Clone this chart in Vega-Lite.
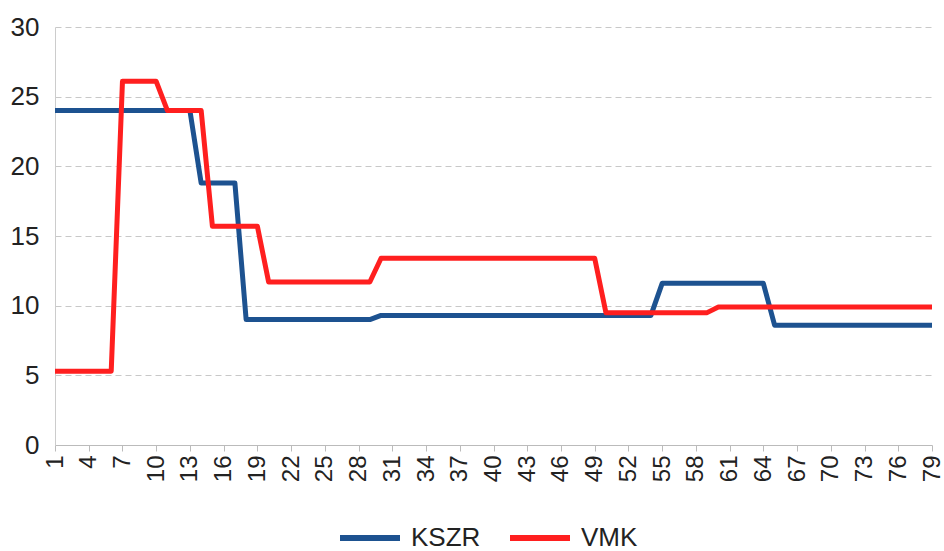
{
  "$schema": "https://vega.github.io/schema/vega-lite/v6.json",
  "width": 877,
  "height": 418,
  "autosize": {"type": "none"},
  "padding": {"left": 55, "top": 27, "right": 12, "bottom": 106},
  "background": "white",
  "config": {
    "font": "Liberation Sans",
    "view": {"stroke": null}
  },
  "data": {
    "values": [
      {"x":1,"KSZR":24,"VMK":5.3},{"x":2,"KSZR":24,"VMK":5.3},{"x":3,"KSZR":24,"VMK":5.3},{"x":4,"KSZR":24,"VMK":5.3},{"x":5,"KSZR":24,"VMK":5.3},{"x":6,"KSZR":24,"VMK":5.3},
      {"x":7,"KSZR":24,"VMK":26.1},{"x":8,"KSZR":24,"VMK":26.1},{"x":9,"KSZR":24,"VMK":26.1},{"x":10,"KSZR":24,"VMK":26.1},
      {"x":11,"KSZR":24,"VMK":24},{"x":12,"KSZR":24,"VMK":24},{"x":13,"KSZR":24,"VMK":24},
      {"x":14,"KSZR":18.8,"VMK":24},
      {"x":15,"KSZR":18.8,"VMK":15.7},{"x":16,"KSZR":18.8,"VMK":15.7},{"x":17,"KSZR":18.8,"VMK":15.7},
      {"x":18,"KSZR":9.0,"VMK":15.7},{"x":19,"KSZR":9.0,"VMK":15.7},
      {"x":20,"KSZR":9.0,"VMK":11.7},{"x":21,"KSZR":9.0,"VMK":11.7},{"x":22,"KSZR":9.0,"VMK":11.7},{"x":23,"KSZR":9.0,"VMK":11.7},{"x":24,"KSZR":9.0,"VMK":11.7},{"x":25,"KSZR":9.0,"VMK":11.7},{"x":26,"KSZR":9.0,"VMK":11.7},{"x":27,"KSZR":9.0,"VMK":11.7},{"x":28,"KSZR":9.0,"VMK":11.7},{"x":29,"KSZR":9.0,"VMK":11.7},
      {"x":30,"KSZR":9.3,"VMK":13.4},{"x":31,"KSZR":9.3,"VMK":13.4},{"x":32,"KSZR":9.3,"VMK":13.4},{"x":33,"KSZR":9.3,"VMK":13.4},{"x":34,"KSZR":9.3,"VMK":13.4},{"x":35,"KSZR":9.3,"VMK":13.4},{"x":36,"KSZR":9.3,"VMK":13.4},{"x":37,"KSZR":9.3,"VMK":13.4},{"x":38,"KSZR":9.3,"VMK":13.4},{"x":39,"KSZR":9.3,"VMK":13.4},
      {"x":40,"KSZR":9.3,"VMK":13.4},{"x":41,"KSZR":9.3,"VMK":13.4},{"x":42,"KSZR":9.3,"VMK":13.4},{"x":43,"KSZR":9.3,"VMK":13.4},{"x":44,"KSZR":9.3,"VMK":13.4},{"x":45,"KSZR":9.3,"VMK":13.4},{"x":46,"KSZR":9.3,"VMK":13.4},{"x":47,"KSZR":9.3,"VMK":13.4},{"x":48,"KSZR":9.3,"VMK":13.4},{"x":49,"KSZR":9.3,"VMK":13.4},
      {"x":50,"KSZR":9.3,"VMK":9.5},{"x":51,"KSZR":9.3,"VMK":9.5},{"x":52,"KSZR":9.3,"VMK":9.5},{"x":53,"KSZR":9.3,"VMK":9.5},{"x":54,"KSZR":9.3,"VMK":9.5},
      {"x":55,"KSZR":11.6,"VMK":9.5},{"x":56,"KSZR":11.6,"VMK":9.5},{"x":57,"KSZR":11.6,"VMK":9.5},{"x":58,"KSZR":11.6,"VMK":9.5},{"x":59,"KSZR":11.6,"VMK":9.5},
      {"x":60,"KSZR":11.6,"VMK":9.9},{"x":61,"KSZR":11.6,"VMK":9.9},{"x":62,"KSZR":11.6,"VMK":9.9},{"x":63,"KSZR":11.6,"VMK":9.9},{"x":64,"KSZR":11.6,"VMK":9.9},
      {"x":65,"KSZR":8.6,"VMK":9.9},{"x":66,"KSZR":8.6,"VMK":9.9},{"x":67,"KSZR":8.6,"VMK":9.9},{"x":68,"KSZR":8.6,"VMK":9.9},{"x":69,"KSZR":8.6,"VMK":9.9},{"x":70,"KSZR":8.6,"VMK":9.9},{"x":71,"KSZR":8.6,"VMK":9.9},{"x":72,"KSZR":8.6,"VMK":9.9},{"x":73,"KSZR":8.6,"VMK":9.9},{"x":74,"KSZR":8.6,"VMK":9.9},{"x":75,"KSZR":8.6,"VMK":9.9},{"x":76,"KSZR":8.6,"VMK":9.9},{"x":77,"KSZR":8.6,"VMK":9.9},{"x":78,"KSZR":8.6,"VMK":9.9},{"x":79,"KSZR":8.6,"VMK":9.9}
    ]
  },
  "transform": [{"fold": ["KSZR", "VMK"], "as": ["series", "value"]}],
  "mark": {"type": "line", "strokeWidth": 5, "strokeJoin": "round", "interpolate": "linear"},
  "encoding": {
    "x": {
      "field": "x", "type": "quantitative",
      "scale": {"domain": [1, 79], "nice": false, "zero": false},
      "axis": {
        "title": null,
        "values": [1,4,7,10,13,16,19,22,25,28,31,34,37,40,43,46,49,52,55,58,61,64,67,70,73,76,79],
        "labelAngle": -90,
        "labelFontSize": 24,
        "labelColor": "#222",
        "labelPadding": 4,
        "labelOverlap": false,
        "labelBound": false,
        "grid": false,
        "domainColor": "#bbb",
        "tickColor": "#bbb",
        "tickSize": 6
      }
    },
    "y": {
      "field": "value", "type": "quantitative",
      "scale": {"domain": [0, 30], "nice": false},
      "axis": {
        "title": null,
        "values": [0,5,10,15,20,25,30],
        "labelFontSize": 26,
        "labelColor": "#222",
        "labelPadding": 16,
        "ticks": false,
        "domainColor": "#ccc",
        "gridColor": "#c8c8c8",
        "gridDash": [6, 4],
        "gridWidth": 1
      }
    },
    "color": {
      "field": "series", "type": "nominal",
      "scale": {"domain": ["KSZR", "VMK"], "range": ["#1d5290", "#ff1f1f"]},
      "legend": {
        "title": null,
        "orient": "none",
        "direction": "horizontal",
        "legendX": 282,
        "legendY": 478,
        "symbolType": "stroke",
        "symbolSize": 3600,
        "symbolStrokeWidth": 6,
        "labelFontSize": 26,
        "labelColor": "#222",
        "columnPadding": 17,
        "labelOffset": 8
      }
    }
  }
}
